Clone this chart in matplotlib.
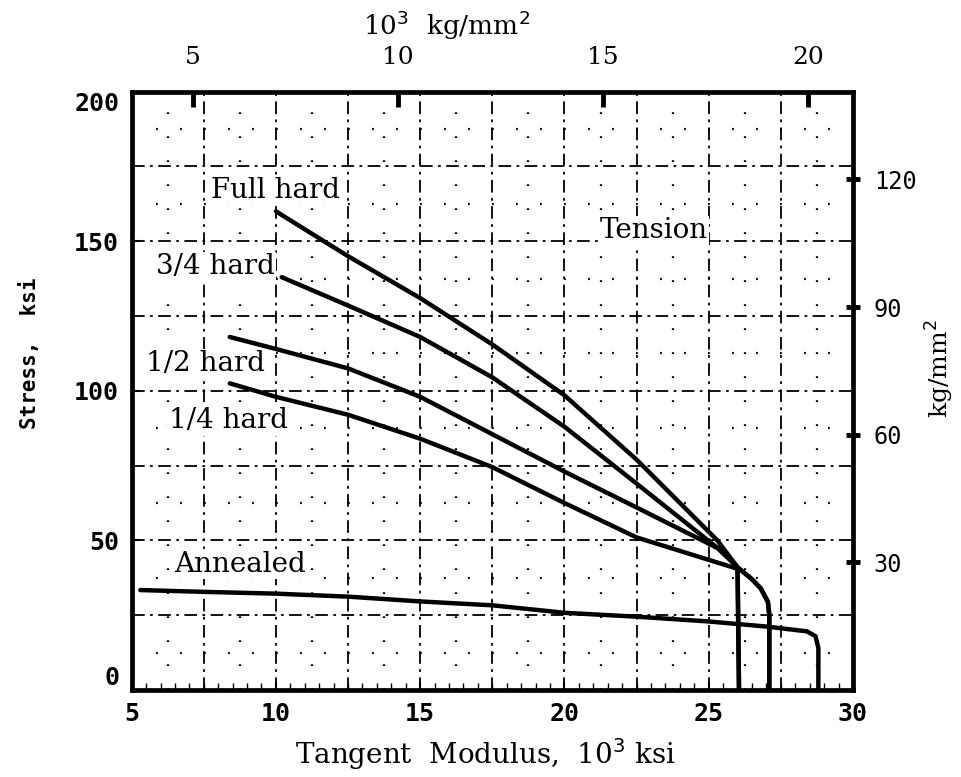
import matplotlib
matplotlib.use("Agg")
import matplotlib.pyplot as plt
import numpy as np

# tangent modulus (10^3 ksi) vs stress (ksi), tension
full_hard_E = [10.0, 12.5, 15.0, 17.5, 20.0, 22.5, 25.3, 26.0, 26.5, 26.8, 27.05, 27.1, 27.1]
full_hard_S = [160, 145, 131, 115.5, 98.5, 77, 50, 41, 37, 34, 29.5, 25, 0]

three_q_E = [10.2, 12.5, 15.0, 17.5, 20.0, 22.5, 25.3, 26.0, 26.5, 26.8, 27.05, 27.1, 27.1]
three_q_S = [138, 128.5, 118, 104.5, 88, 69, 47.5, 41, 37, 34, 29.5, 25, 0]

half_hard_E = [8.4, 10.0, 12.5, 15.0, 17.5, 20.0, 22.5, 25.5, 26.0, 26.05]
half_hard_S = [118, 114, 107.5, 98, 85.5, 73, 61, 46.5, 41, 0]

quarter_E = [8.4, 10.0, 12.5, 15.0, 17.5, 20.0, 22.5, 25.0, 26.0, 26.05]
quarter_S = [102.5, 98, 92, 84, 74.5, 62.5, 51, 43.5, 40.5, 0]

annealed_E = [5.3, 7.5, 10.0, 12.5, 15.0, 17.5, 20.0, 22.5, 25.0, 27.0, 28.4, 28.7, 28.8, 28.8]
annealed_S = [33.4, 32.8, 32.2, 31.2, 29.6, 28.3, 25.8, 24.5, 22.9, 21.2, 19.6, 18, 14, 0]

curve_labels = ["Full hard", "3/4 hard", "1/2 hard", "1/4 hard", "Annealed"]
label_x = [10.0, 7.9, 7.55, 8.35, 8.75]
label_y = [167, 141.5, 109, 90, 42]

x_ticks = [5, 10, 15, 20, 25, 30]
y_ticks = [0, 50, 100, 150, 200]
top_ticks = [5, 10, 15, 20]          # 10^3 kg/mm^2
right_ticks = [30, 60, 90, 120]      # kg/mm^2

KSI_PER_KGMM = 1.4223

fig = plt.figure(figsize=(9.61, 7.77), dpi=100)
ax = fig.add_axes([0.137, 0.112, 0.7506, 0.770])

ax.set_xlim(5, 30)
ax.set_ylim(0, 200)

# graph-paper grid
for gx in np.arange(7.5, 30, 2.5):
    ax.axvline(gx, color="black", lw=1.3, ls=(0, (7, 3, 1.5, 3)), zorder=1)
for gy in np.arange(25, 200, 25):
    ax.axhline(gy, color="black", lw=1.3, ls=(0, (7, 3, 1.5, 3)), zorder=1)
for gx in np.arange(6.25, 30, 2.5):
    ax.axvline(gx, color="black", lw=1.6, ls=(0, (0.8, 10)), zorder=1)
for gy in np.arange(12.5, 200, 25):
    ax.axhline(gy, color="black", lw=1.6, ls=(0, (0.8, 10)), zorder=1)

curves = [(full_hard_E, full_hard_S), (three_q_E, three_q_S),
          (half_hard_E, half_hard_S), (quarter_E, quarter_S),
          (annealed_E, annealed_S)]
for e, s in curves:
    ax.plot(e, s, color="black", lw=3.2, solid_capstyle="round",
            solid_joinstyle="round", zorder=3)

serif = "DejaVu Serif"
for name, lx, ly in zip(curve_labels, label_x, label_y):
    ax.text(lx, ly, name, ha="center", va="center", fontsize=20,
            family=serif, zorder=4,
            bbox=dict(facecolor="white", edgecolor="none", pad=1))
ax.text(23.1, 153.5, "Tension", ha="center", va="center", fontsize=20,
        family=serif, zorder=4,
        bbox=dict(facecolor="white", edgecolor="none", pad=1))

# frame and main scales
for sp in ax.spines.values():
    sp.set_linewidth(3.4)
ax.set_xticks(x_ticks)
ax.set_yticks(y_ticks)
ax.set_xticks(np.arange(5, 30.01, 0.5), minor=True)
ax.tick_params(axis="both", which="major", direction="in", length=6, width=1.5,
               pad=9, labelsize=18)
ax.tick_params(axis="x", which="minor", direction="in", length=5, width=1)
ax.tick_params(axis="y", which="minor", left=False)
for lab in ax.get_xticklabels() + ax.get_yticklabels():
    lab.set_family("DejaVu Sans Mono")
    lab.set_fontweight("bold")
# end labels sit inside the frame height
ylabs = ax.get_yticklabels()
ylabs[0].set_verticalalignment("bottom")
ylabs[-1].set_verticalalignment("top")

ax.set_xlabel("Tangent  Modulus,  10$^3$ ksi", family=serif, fontsize=20)
ax.xaxis.set_label_coords(0.49, -0.077)
ax.set_ylabel("Stress,  ksi", family="DejaVu Sans Mono", fontweight="bold",
              fontsize=15)
ax.yaxis.set_label_coords(-0.127, 0.563)

# metric scales
top = ax.secondary_xaxis("top", functions=(lambda v: v / KSI_PER_KGMM,
                                           lambda v: v * KSI_PER_KGMM))
top.set_xticks(top_ticks)
top.tick_params(direction="in", length=11, width=3.5, pad=16, labelsize=18)
for lab in top.get_xticklabels():
    lab.set_family(serif)
fig.text(0.465, 0.968, "10$^3$  kg/mm$^2$", family=serif, fontsize=19,
         ha="center", va="center")

right = ax.secondary_yaxis("right", functions=(lambda v: v / KSI_PER_KGMM,
                                               lambda v: v * KSI_PER_KGMM))
right.set_yticks(right_ticks)
right.tick_params(direction="inout", length=10, width=3.5, pad=10, labelsize=17)
for lab in right.get_yticklabels():
    lab.set_family("DejaVu Sans Mono")
fig.text(0.978, 0.526, "kg/mm$^2$", family=serif, fontsize=18, rotation=90,
         ha="center", va="center")

fig.savefig("out.png", dpi=100)
